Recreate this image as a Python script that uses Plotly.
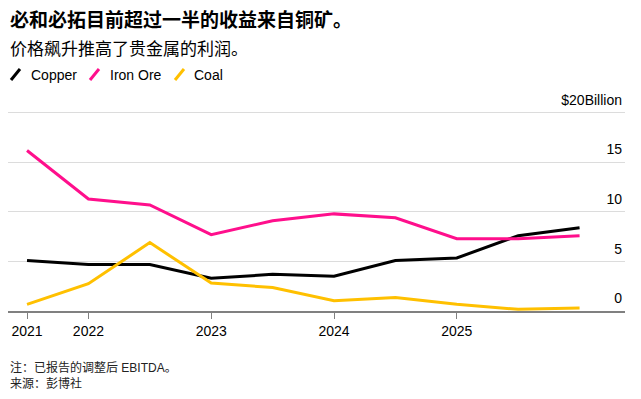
import plotly.graph_objects as go

periods = ["2021-06", "2021-12", "2022-06", "2022-12", "2023-06", "2023-12", "2024-06", "2024-12", "2025-06", "2025-12"]
copper = [5.1, 4.7, 4.7, 3.3, 3.7, 3.5, 5.1, 5.35, 7.6, 8.4]
iron_ore = [16.2, 11.3, 10.7, 7.7, 9.1, 9.8, 9.4, 7.3, 7.3, 7.6]
coal = [0.67, 2.76, 6.9, 2.83, 2.36, 1.04, 1.35, 0.67, 0.17, 0.3]

x_tick_idx = [0, 1, 3, 5, 7]
x_tick_text = ["2021", "2022", "2023", "2024", "2025"]
y_tick_vals = [0, 5, 10, 15, 20]
y_tick_text = ["0", "5", "10", "15", "$20Billion"]

series = [("Copper", copper, "#000000"), ("Iron Ore", iron_ore, "#ff0f8c"), ("Coal", coal, "#ffc000")]

FONT = "Liberation Sans, Arial, Noto Sans CJK SC, sans-serif"
CJK = "Noto Sans CJK SC, Liberation Sans, sans-serif"

xs = list(range(len(periods)))
fig = go.Figure()
for name, vals, col in series:
    fig.add_trace(go.Scatter(x=xs, y=vals, mode="lines", name=name,
                             line=dict(color=col, width=3), showlegend=False,
                             hoverinfo="skip"))

W, H = 641, 399
L, R, T, B = 8, 16, 90, 88
pw, ph = W - L - R, H - T - B
def px(x):
    return (x - L) / pw
def py(y):
    return (H - B - y) / ph

fig.update_layout(
    width=W, height=H,
    margin=dict(l=L, r=R, t=T, b=B),
    paper_bgcolor="white", plot_bgcolor="white",
    font=dict(family=FONT, size=14, color="#000"),
    xaxis=dict(range=[-0.31, 9.74], tickvals=x_tick_idx, ticktext=x_tick_text,
               showgrid=False, zeroline=False, showline=True, linecolor="#808080",
               linewidth=2, ticks="outside", ticklen=6, tickcolor="#808080", tickwidth=1,
               tickfont=dict(size=14, family=FONT, color="#000")),
    yaxis=dict(range=[0, 22.3], side="right", tickvals=y_tick_vals, ticktext=y_tick_text,
               ticklabelposition="inside top", ticklabelshift=-3, showgrid=True,
               gridcolor="#dcdcdc", gridwidth=1,
               zeroline=False, showline=False, ticks="",
               tickfont=dict(size=14, family=FONT, color="#000")),
)

fig.add_annotation(text="<b>必和必拓目前超过一半的收益来自铜矿。</b>", xref="paper", yref="paper",
                   x=px(8), y=py(18), xanchor="left", yanchor="middle", showarrow=False,
                   font=dict(size=19, family=CJK, color="#000"))
fig.add_annotation(text="价格飙升推高了贵金属的利润。", xref="paper", yref="paper",
                   x=px(8), y=py(47), xanchor="left", yanchor="middle", showarrow=False,
                   font=dict(size=17, family=CJK, color="#000"))

legend_items = [(10, 29, "Copper", "#000000"), (89, 108, "Iron Ore", "#ff0f8c"), (174, 192, "Coal", "#ffc000")]
for kx, tx, label, col in legend_items:
    fig.add_shape(type="line", xref="paper", yref="paper",
                  x0=px(kx + 1), y0=py(80), x1=px(kx + 10), y1=py(69),
                  line=dict(color=col, width=3))
    fig.add_annotation(text=label, xref="paper", yref="paper", x=px(tx), y=py(75),
                       xanchor="left", yanchor="middle", showarrow=False,
                       font=dict(size=14, family=FONT, color="#000"))

fig.add_annotation(text="注：已报告的调整后 EBITDA。<br>来源：彭博社", xref="paper", yref="paper",
                   x=px(8), y=py(375), xanchor="left", yanchor="middle", align="left",
                   showarrow=False, font=dict(size=12, family=FONT, color="#222"))

fig.write_html("out.html", config={"displayModeBar": False},
               post_script="document.body.style.margin='0';document.body.style.padding='0';")
